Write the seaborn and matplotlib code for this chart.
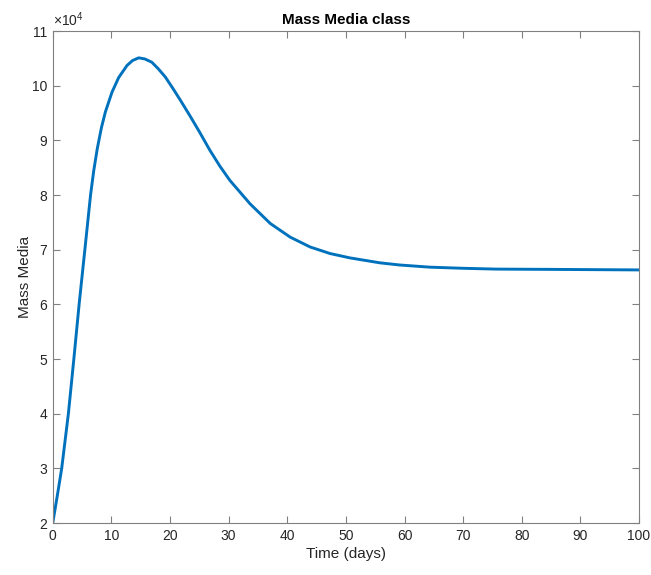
import matplotlib
matplotlib.use("Agg")
import matplotlib.pyplot as plt
import seaborn as sns
import pandas as pd
from matplotlib.ticker import FuncFormatter

# Data (time in days, Mass Media population)
time_days = [0, 0.78, 1.53, 2.67, 3.6, 4.5, 5.48, 6.45, 7.0, 7.6, 8.3, 8.98,
             10.1, 11.25, 12.67, 13.6, 14.66, 15.7, 16.9, 18.0, 19.2, 20.5,
             21.8, 23.4, 25.0, 26.8, 28.5, 30.2, 33.65, 37.1, 40.5, 43.9, 47.3,
             50.7, 55.8, 59.2, 64.4, 70, 75.7, 85, 100]
mass_media = [20000, 25000, 30000, 40000, 50000, 60000, 70000, 80000, 84500,
              88500, 92300, 95200, 98800, 101500, 103700, 104600, 105100,
              104900, 104300, 103100, 101600, 99500, 97300, 94500, 91600,
              88200, 85300, 82700, 78400, 74800, 72300, 70500, 69300, 68500,
              67600, 67200, 66800, 66600, 66450, 66400, 66300]
x_ticks = [0, 10, 20, 30, 40, 50, 60, 70, 80, 90, 100]
y_ticks = [20000, 30000, 40000, 50000, 60000, 70000, 80000, 90000, 100000, 110000]

sns.set_theme(style="white")
plt.rcParams['font.family'] = ['Liberation Sans', 'DejaVu Sans']
plt.rcParams['mathtext.fontset'] = 'custom'
plt.rcParams['mathtext.rm'] = 'Liberation Sans'

df = pd.DataFrame({"t": time_days, "m": mass_media})

fig = plt.figure(figsize=(6.51, 5.75), dpi=100)
ax = fig.add_axes([0.081, 0.0904, 0.9006, 0.8556])
sns.lineplot(data=df, x="t", y="m", ax=ax, color="#0072BD", linewidth=2.1)
for ln in ax.lines:
    ln.set_solid_joinstyle("round")

ax.set_xlim(0, 100)
ax.set_ylim(20000, 110000)
ax.set_xticks(x_ticks)
ax.set_yticks(y_ticks)
ax.yaxis.set_major_formatter(FuncFormatter(lambda v, p: f"{v/1e4:g}"))

gray = "#262626"
axcol = "#808080"
for s in ax.spines.values():
    s.set_visible(True)
    s.set_color(axcol)
    s.set_linewidth(0.8)
ax.tick_params(direction="in", length=5, width=0.8, colors=axcol,
               labelcolor=gray, labelsize=10, top=True, right=True,
               bottom=True, left=True, pad=4)

ax.set_xlabel("Time (days)", fontsize=11, color=gray, labelpad=3)
ax.set_ylabel("Mass Media", fontsize=11, color=gray, labelpad=0)
ax.set_title("Mass Media class", fontsize=11, fontweight="bold", color="black", pad=5)
ax.text(0.0, 1.005, r"$\times10^{4}$", transform=ax.transAxes, ha="left",
        va="bottom", fontsize=10, color=gray)
ax.grid(False)

fig.savefig("out.png", dpi=100, facecolor="white")
